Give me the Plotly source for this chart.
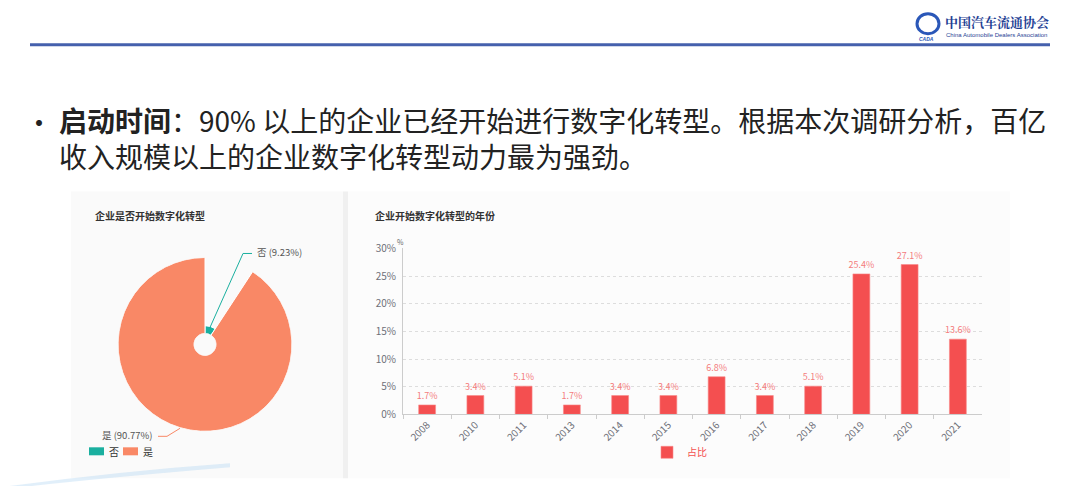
import plotly.graph_objects as go

W, H = 1080, 486

# ---------------- data ----------------
pie_labels = ["否", "是"]
pie_values = [9.23, 90.77]
pie_colors = ["#1aaf9f", "#f98866"]

years = ["2008", "2010", "2011", "2013", "2014", "2015", "2016", "2017", "2018", "2019", "2020", "2021"]
share = [1.7, 3.4, 5.1, 1.7, 3.4, 3.4, 6.8, 3.4, 5.1, 25.4, 27.1, 13.6]
y_ticks = [0, 5, 10, 15, 20, 25, 30]
y_ticklabels = ["0%", "5%", "10%", "15%", "20%", "25%", "30%"]

FONT = "Noto Sans CJK SC"


def px(x):
    return x / W


def py(y):
    # reference pixel row -> paper fraction (compensates the slight vertical squeeze seen in renders)
    return 1 - ((y - 7.3) / 0.97) / H


fig = go.Figure()

# ---------------- rose pie (barpolar) ----------------
total = sum(pie_values)
start = 0.0
for lab, val, col in zip(pie_labels, pie_values, pie_colors):
    span = val / total * 360
    fig.add_trace(go.Barpolar(
        r=[val], theta=[start + span / 2], width=[span],
        name=lab, marker=dict(color=col, line=dict(color="white", width=1)),
        showlegend=False, hoverinfo="skip"))
    start += span

# ---------------- bar chart ----------------
fig.add_trace(go.Bar(
    x=years, y=share, name="占比",
    marker=dict(color="#f44f50", line=dict(color="#f88a8a", width=0.6)),
    width=0.35,
    text=[f"{v}%" for v in share], textposition="outside", constraintext="none",
    textfont=dict(size=9, color="#f47c7c", family=FONT),
    cliponaxis=False, legend="legend2", hoverinfo="skip"))

shapes = []
# panels
shapes.append(dict(type="rect", xref="paper", yref="paper", x0=px(71), x1=px(343), y0=py(477), y1=py(190),
                   fillcolor="#fafafa", line=dict(width=0), layer="below"))
shapes.append(dict(type="rect", xref="paper", yref="paper", x0=px(343), x1=px(348), y0=py(477), y1=py(190),
                   fillcolor="#f0f0f0", line=dict(width=0), layer="below"))
shapes.append(dict(type="rect", xref="paper", yref="paper", x0=px(348), x1=px(1010), y0=py(477), y1=py(190),
                   fillcolor="#fcfcfc", line=dict(width=0), layer="below"))
# header line
shapes.append(dict(type="line", xref="paper", yref="paper", x0=px(30), x1=px(1050), y0=py(43), y1=py(43),
                   line=dict(color="#4560ad", width=3)))
# bottom swoosh decoration
shapes.append(dict(type="path", xref="paper", yref="paper",
                   path=f"M {px(0)},{py(486)} Q {px(120)},{py(470)} {px(230)},{py(462)} L {px(230)},{py(466)} Q {px(110)},{py(476)} {px(20)},{py(486)} Z",
                   fillcolor="rgba(170,210,240,0.35)", line=dict(width=0), layer="below"))
# logo icon
shapes.append(dict(type="circle", xref="paper", yref="paper", x0=px(917), x1=px(939), y0=py(32), y1=py(12),
                   line=dict(color="#2a57b8", width=3)))
# pie leader lines
shapes.append(dict(type="path", xref="paper", yref="paper",
                   path=f"M {px(210)},{py(326)} L {px(243)},{py(252)} L {px(252)},{py(252)}",
                   line=dict(color=pie_colors[0], width=1)))
shapes.append(dict(type="path", xref="paper", yref="paper",
                   path=f"M {px(180)},{py(427)} L {px(167)},{py(435)} L {px(158)},{py(435)}",
                   line=dict(color=pie_colors[1], width=1)))
# pie legend swatches
leg_x = [89, 123]
for lx, col in zip(leg_x, pie_colors):
    shapes.append(dict(type="rect", xref="paper", yref="paper", x0=px(lx), x1=px(lx + 15),
                       y0=py(454), y1=py(446), fillcolor=col, line=dict(width=0)))

annotations = []
# headline
annotations.append(dict(xref="paper", yref="paper", x=px(39), y=py(120), xanchor="center", yanchor="middle",
                        text="•", showarrow=False, font=dict(size=28, color="#222222", family=FONT)))
annotations.append(dict(xref="paper", yref="paper", x=px(57), y=py(136), xanchor="left", yanchor="middle",
                        align="left",
                        text="<b>启动时间</b>：90% 以上的企业已经开始进行数字化转型。根据本次调研分析，百亿"
                             "<br>收入规模以上的企业数字化转型动力最为强劲。",
                        showarrow=False, font=dict(size=28, color="#222222", family=FONT)))
# logo text
annotations.append(dict(xref="paper", yref="paper", x=px(943), y=py(20), xanchor="left", yanchor="middle",
                        text="<b>中国汽车流通协会</b>", showarrow=False,
                        font=dict(size=13, color="#1f3f94", family="Noto Serif CJK SC, " + FONT)))
annotations.append(dict(xref="paper", yref="paper", x=px(944), y=py(33), xanchor="left", yanchor="middle",
                        text="China Automobile Dealers Association", showarrow=False,
                        font=dict(size=6, color="#1f3f94", family="Liberation Sans")))
annotations.append(dict(xref="paper", yref="paper", x=px(926), y=py(37), xanchor="center", yanchor="middle",
                        text="<b><i>CADA</i></b>", showarrow=False,
                        font=dict(size=5, color="#2a57b8", family="Liberation Sans")))
# chart titles
annotations.append(dict(xref="paper", yref="paper", x=px(93), y=py(214), xanchor="left", yanchor="middle",
                        text="<b>企业是否开始数字化转型</b>", showarrow=False,
                        font=dict(size=10, color="#333333", family=FONT)))
annotations.append(dict(xref="paper", yref="paper", x=px(373), y=py(214), xanchor="left", yanchor="middle",
                        text="<b>企业开始数字化转型的年份</b>", showarrow=False,
                        font=dict(size=10, color="#333333", family=FONT)))
# pie labels
annotations.append(dict(xref="paper", yref="paper", x=px(255), y=py(251), xanchor="left", yanchor="middle",
                        text=f"{pie_labels[0]} ({pie_values[0]:.2f}%)", showarrow=False,
                        font=dict(size=9.5, color="#555555", family=FONT)))
annotations.append(dict(xref="paper", yref="paper", x=px(155), y=py(434), xanchor="right", yanchor="middle",
                        text=f"{pie_labels[1]} ({pie_values[1]:.2f}%)", showarrow=False,
                        font=dict(size=9.5, color="#555555", family=FONT)))
# pie legend labels
for lx, lab in zip(leg_x, pie_labels):
    annotations.append(dict(xref="paper", yref="paper", x=px(lx + 18), y=py(450), xanchor="left",
                            yanchor="middle", text=lab, showarrow=False,
                            font=dict(size=10, color="#333333", family=FONT)))
# y axis unit
annotations.append(dict(xref="paper", yref="paper", x=px(400), y=py(241), xanchor="center", yanchor="middle",
                        text="%", showarrow=False, font=dict(size=7, color="#666666", family=FONT)))

fig.update_layout(
    width=W, height=H,
    margin=dict(l=0, r=0, t=0, b=0),
    paper_bgcolor="white", plot_bgcolor="rgba(0,0,0,0)",
    font=dict(family=FONT),
    showlegend=True,
    polar=dict(
        domain=dict(x=[px(118), px(292)], y=[py(430), py(256)]),
        hole=11 / 87,
        bgcolor="rgba(0,0,0,0)",
        angularaxis=dict(visible=False, direction="clockwise", rotation=90),
        radialaxis=dict(visible=False, range=[0, max(pie_values)]),
    ),
    xaxis=dict(
        domain=[px(403), px(982)], anchor="y",
        type="category", categoryorder="array", categoryarray=years,
        tickangle=-45, tickfont=dict(size=10, color="#6e7079", family=FONT),
        showline=True, linecolor="#cccccc", linewidth=1,
        ticks="outside", tickson="boundaries", ticklen=4, tickcolor="#cccccc",
        showgrid=False, zeroline=False,
    ),
    yaxis=dict(
        domain=[py(413), py(247)], anchor="x",
        range=[0, 30], tickvals=y_ticks, ticktext=y_ticklabels,
        tickfont=dict(size=10, color="#6e7079", family=FONT),
        showline=True, linecolor="#cccccc", linewidth=1,
        showgrid=True, gridcolor="#dddddd", griddash="dot", gridwidth=1,
        zeroline=False, ticks="", ticklabelstandoff=4,
    ),
    legend2=dict(x=px(647), y=py(451), xanchor="left", yanchor="middle", orientation="h",
                 font=dict(size=10, color="#f44f50", family=FONT), bgcolor="rgba(0,0,0,0)",
                 itemwidth=30),
    shapes=shapes,
    annotations=annotations,
)

fig.write_html("out.html", config={"displayModeBar": False},
               post_script="document.body.style.margin='0';")
